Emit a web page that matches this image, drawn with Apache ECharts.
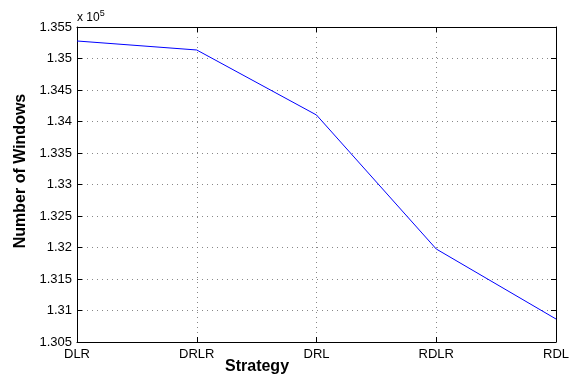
<!DOCTYPE html>
<html><head><meta charset="utf-8">
<script src="https://cdn.jsdelivr.net/npm/echarts@6/dist/echarts.min.js"></script>
<style>html,body{margin:0;padding:0;background:#fff}#c{width:574px;height:380px}</style>
</head><body><div id="c"></div>
<script>
var categories = ['DLR', 'DRLR', 'DRL', 'RDLR', 'RDL'];
var windows = [135278, 135135, 134103, 131976, 130865];
var yTicks = [130500, 131000, 131500, 132000, 132500, 133000, 133500, 134000, 134500, 135000, 135500];

var font = 'Liberation Sans, Arial, Helvetica, sans-serif';
var chart = echarts.init(document.getElementById('c'));
function fmt(v){ return parseFloat((v/1e5).toFixed(3)).toString(); }
var axisLine = {show:true, lineStyle:{color:'#000', width:1}};
var tick = {show:true, inside:true, length:5, lineStyle:{color:'#000'}};
var split = {show:true, lineStyle:{color:'#888', type:[1,4], width:1}};
chart.setOption({
  animation:false,
  grid:{left:77, right:18, top:27, bottom:38, containLabel:false},
  xAxis:[{
    type:'category', data:categories, boundaryGap:false,
    axisLine:axisLine, axisTick:tick, splitLine:split,
    axisLabel:{color:'#000', fontFamily:font, fontSize:13, margin:6}
  },{
    type:'category', data:categories, boundaryGap:false, position:'top',
    axisLine:axisLine, axisTick:tick, axisLabel:{show:false}, splitLine:{show:false}
  }],
  yAxis:[{
    type:'value', min:yTicks[0], max:yTicks[yTicks.length-1], interval:500,
    axisLine:axisLine, axisTick:tick, splitLine:split,
    axisLabel:{color:'#000', fontFamily:font, fontSize:13, margin:5, formatter:fmt}
  },{
    type:'value', min:yTicks[0], max:yTicks[yTicks.length-1], interval:500, position:'right',
    axisLine:axisLine, axisTick:tick, axisLabel:{show:false}, splitLine:{show:false}
  }],
  series:[{
    type:'line', data:windows, showSymbol:false, symbol:'none',
    lineStyle:{color:'#0000ff', width:1}, itemStyle:{color:'#0000ff'}
  }],
  graphic:[
    {type:'text', left:225, top:359, style:{text:'Strategy', font:'bold 16px '+font, fill:'#000'}},
    {type:'text', x:21, y:171, rotation:Math.PI/2, style:{text:'Number of Windows', font:'bold 16px '+font, fill:'#000', align:'center', verticalAlign:'middle'}},
    {type:'text', left:77, top:9, style:{text:'x 10{s|5}', font:'12px '+font, fill:'#000', rich:{s:{fontSize:9, verticalAlign:'top', padding:[0,0,8,0], fontFamily:font}}}}
  ]
});
</script></body></html>
